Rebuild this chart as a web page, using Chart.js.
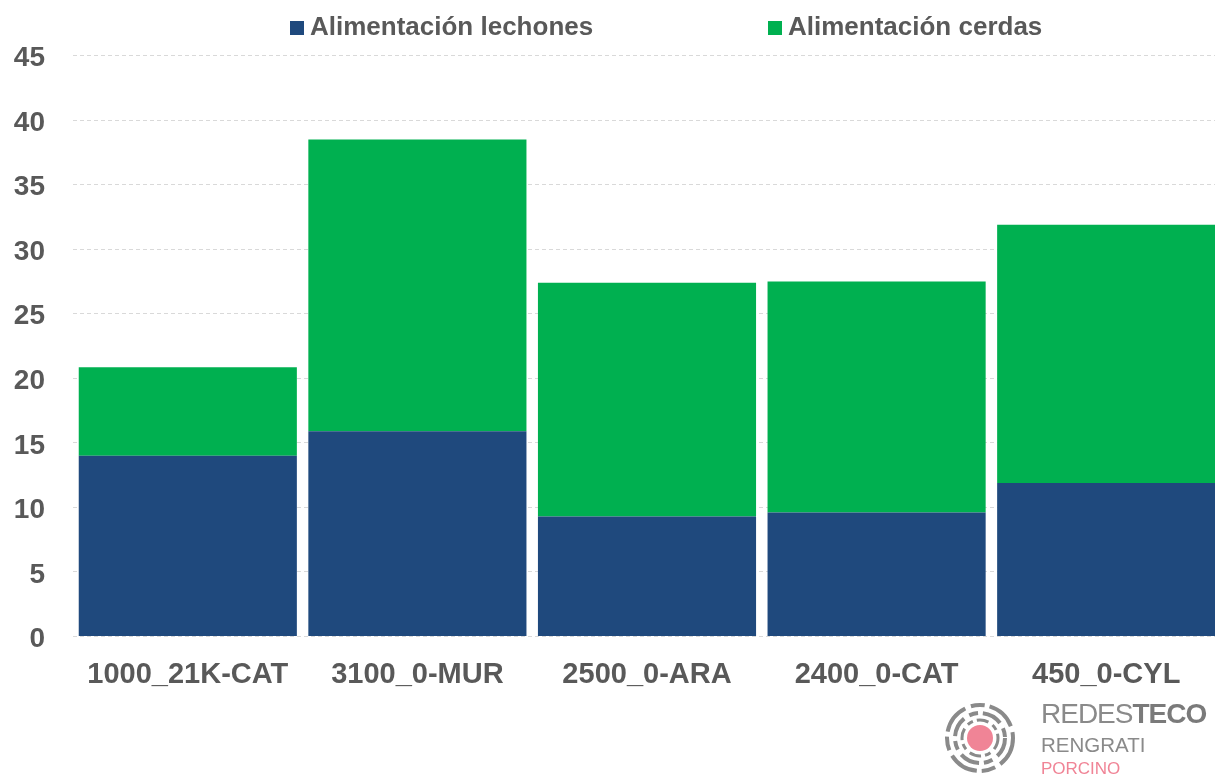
<!DOCTYPE html>
<html>
<head>
<meta charset="utf-8">
<script src="https://cdn.jsdelivr.net/npm/chart.js@4/dist/chart.umd.min.js"></script>
<style>
    html, body { margin: 0; padding: 0; background: #fff; overflow: hidden; width: 1215px; height: 775px; }
    #wrap { position: absolute; left: 0; top: 0; width: 1222px; height: 700px; }
    .legend { position: absolute; top: 9px; font: bold 26px 'Liberation Sans', Arial, sans-serif; color: #595959; white-space: nowrap; line-height: 34px; }
    .legend span.box { position: absolute; top: 12px; width: 14px; height: 14px; }
    .legend span.txt { position: absolute; left: 20px; top: 0; }
    #logo { position: absolute; left: 940px; top: 695px; width: 280px; height: 85px; }
    #logo .t { position: absolute; left: 101px; font-family: 'Liberation Sans', Arial, sans-serif; white-space: nowrap; }
</style>
</head>
<body>
<div id="wrap"><canvas id="chart_feed"></canvas></div>
<div id="legend"></div>
<div id="logo">
    <svg width="80" height="85" style="position:absolute;left:0;top:0">
        <circle cx="40" cy="43" r="33" fill="none" stroke="#8a8a8a" stroke-width="4" stroke-dasharray="30 6 14 5"/>
        <circle cx="40" cy="43" r="25" fill="none" stroke="#8a8a8a" stroke-width="4" stroke-dasharray="20 6 9 5"/>
        <circle cx="40" cy="43" r="18" fill="none" stroke="#8a8a8a" stroke-width="3" stroke-dasharray="12 5 6 4"/>
        <circle cx="40" cy="43" r="13" fill="#f08496"/>
    </svg>
    <div class="t" style="top:3px;font-size:28px;color:#8a8a8a;letter-spacing:-1px">REDES<b style="color:#7a7a7a">TECO</b></div>
    <div class="t" style="top:38px;font-size:20.5px;color:#8a8a8a">RENGRATI</div>
    <div class="t" style="top:64px;font-size:17px;color:#f08496">PORCINO</div>
</div>
<script>
var APP = APP || {};

var categories = ['1000_21K-CAT', '3100_0-MUR', '2500_0-ARA', '2400_0-CAT', '450_0-CYL'];
var lechones = [14.0, 15.9, 9.3, 9.6, 11.9];
var cerdas = [6.85, 22.6, 18.1, 17.9, 20.0];
var seriesNames = ['Alimentación lechones', 'Alimentación cerdas'];
var seriesColors = ['#1F497D', '#00B050'];
var yTicks = [0, 5, 10, 15, 20, 25, 30, 35, 40, 45];

APP.Feed = (function(){

    function init() {
        buildLegend();
        createChartBar('chart_feed');
    }

    function buildLegend() {
        var el = document.getElementById('legend');
        var lefts = [290, 768];
        for (var i = 0; i < seriesNames.length; i++) {
            var item = document.createElement('div');
            item.className = 'legend';
            item.style.left = lefts[i] + 'px';
            item.innerHTML = '<span class="box" style="background:' + seriesColors[i] + '"></span>' +
                             '<span class="txt">' + seriesNames[i] + '</span>';
            el.appendChild(item);
        }
    }

    function createChartBar(context) {
        var ctx = document.getElementById(context).getContext('2d');
        Chart.defaults.font.family = "'Liberation Sans', Arial, sans-serif";
        Chart.defaults.color = '#595959';

        new Chart(ctx, {
            type: 'bar',
            data: {
                labels: categories,
                datasets: [
                    { label: seriesNames[0], data: lechones, backgroundColor: seriesColors[0], borderWidth: 0 },
                    { label: seriesNames[1], data: cerdas, backgroundColor: seriesColors[1], borderWidth: 0 }
                ]
            },
            options: {
                responsive: false,
                animation: false,
                datasets: { bar: { categoryPercentage: 1, barPercentage: 0.95 } },
                layout: { padding: { top: 55.6, right: 1, bottom: 0, left: 0 } },
                plugins: { legend: { display: false }, tooltip: { enabled: false } },
                scales: {
                    x: {
                        stacked: true,
                        grid: { display: false },
                        border: { display: false },
                        ticks: { font: { size: 29, weight: 'bold' }, padding: 13, color: '#595959' },
                        afterFit: function(scale) { scale.height = 63.5; }
                    },
                    y: {
                        stacked: true,
                        min: 0,
                        max: 45,
                        afterBuildTicks: function(scale) {
                            scale.ticks = yTicks.map(function(v){ return { value: v }; });
                        },
                        grid: { color: '#d9d9d9', lineWidth: 1, drawTicks: false },
                        border: { display: false, dash: [4, 3] },
                        ticks: { font: { size: 28, weight: 'bold' }, padding: 28, labelOffset: 3, color: '#595959' },
                        afterFit: function(scale) { scale.width = 73; }
                    }
                }
            }
        });
    }

    return { init: init };

})();

var cv = document.getElementById('chart_feed');
cv.width = 1222;
cv.height = 700;
APP.Feed.init();
</script>
</body>
</html>
